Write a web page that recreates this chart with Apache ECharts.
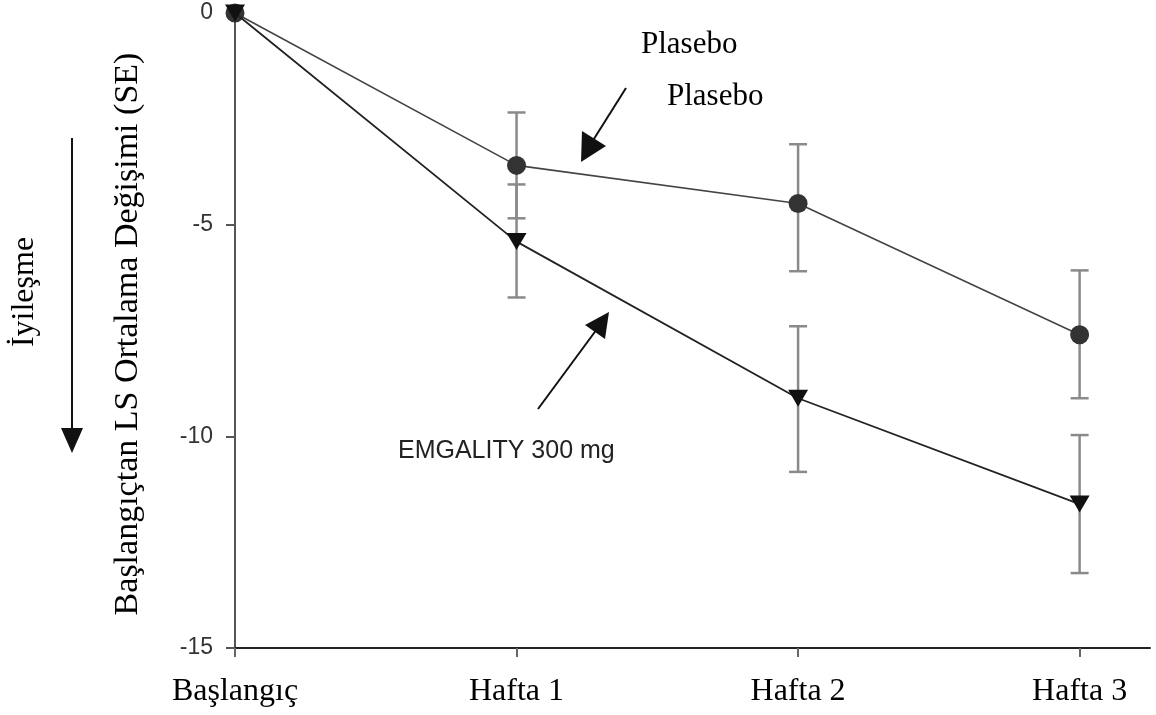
<!DOCTYPE html>
<html>
<head>
<meta charset="utf-8">
<script src="https://cdn.jsdelivr.net/npm/echarts@6/dist/echarts.min.js"></script>
<style>html,body{margin:0;padding:0;background:#fff}#c{width:1156px;height:715px}</style>
</head>
<body>
<div id="c"></div>
<script>
const categories = ['Başlangıç', 'Hafta 1', 'Hafta 2', 'Hafta 3'];
const placeboMean = [0, -3.6, -4.5, -7.6];
const placeboLow = [null, -4.85, -6.1, -9.1];
const placeboHigh = [null, -2.35, -3.1, -6.08];
const emgMean = [0, -5.4, -9.1, -11.6];
const emgLow = [null, -6.72, -10.84, -13.23];
const emgHigh = [null, -4.05, -7.4, -9.97];
const yTicks = [0, -5, -10, -15];

const chart = echarts.init(document.getElementById('c'), null, {renderer: 'canvas'});

function errData(low, high) {
  const out = [];
  low.forEach((l, i) => { if (l !== null) out.push([i, l, high[i]]); });
  return out;
}
function errRender(params, api) {
  const x = api.value(0);
  const p1 = api.coord([x, api.value(1)]);
  const p2 = api.coord([x, api.value(2)]);
  const hw = 9;
  const st = {stroke: '#8a8a8a', lineWidth: 2.5};
  return {type: 'group', children: [
    {type: 'line', shape: {x1: p1[0], y1: p1[1], x2: p2[0], y2: p2[1]}, style: st},
    {type: 'line', shape: {x1: p1[0]-hw, y1: p1[1], x2: p1[0]+hw, y2: p1[1]}, style: st},
    {type: 'line', shape: {x1: p2[0]-hw, y1: p2[1], x2: p2[0]+hw, y2: p2[1]}, style: st}
  ]};
}

const serif = 'Liberation Serif';
const sans = 'Liberation Sans';

chart.setOption({
  animation: false,
  backgroundColor: '#fff',
  grid: {left: 235, right: 6, top: 13, bottom: 67, containLabel: false},
  xAxis: {
    type: 'value', min: 0, max: 3.25,
    axisLine: {show: true, onZero: false, lineStyle: {color: '#222', width: 2}},
    axisTick: {show: true, inside: false, length: 9, customValues: [0, 1, 2, 3], lineStyle: {color: '#666', width: 2}},
    axisLabel: {show: true, customValues: [0, 1, 2, 3], margin: 28, fontFamily: serif, fontSize: 32, color: '#000',
      formatter: v => categories[Math.round(v)] || ''},
    splitLine: {show: false}
  },
  yAxis: {
    type: 'value', min: -15, max: 0, interval: 5,
    axisLine: {show: true, onZero: false, lineStyle: {color: '#555', width: 2}},
    axisTick: {show: true, inside: false, length: 9, lineStyle: {color: '#555', width: 2}},
    axisLabel: {show: true, margin: 22, fontFamily: sans, fontSize: 23, color: '#333',
      formatter: v => yTicks.includes(v) ? String(v) : ''},
    splitLine: {show: false}
  },
  series: [
    {type: 'custom', name: 'errP', renderItem: errRender, data: errData(placeboLow, placeboHigh), z: 1, silent: true},
    {type: 'custom', name: 'errE', renderItem: errRender, data: errData(emgLow, emgHigh), z: 1, silent: true},
    {type: 'line', name: 'Plasebo', data: placeboMean.map((v, i) => [i, v]), z: 3,
      symbol: 'circle', symbolSize: 19, itemStyle: {color: '#333'},
      lineStyle: {color: '#444', width: 1.6}},
    {type: 'line', name: 'EMGALITY 300 mg', data: emgMean.map((v, i) => [i, v]), z: 4,
      symbol: 'triangle', symbolRotate: 180, symbolSize: [20, 17], itemStyle: {color: '#111'},
      lineStyle: {color: '#222', width: 1.8}}
  ],
  graphic: [
    {type: 'text', x: 128, y: 334, rotation: Math.PI / 2,
      style: {text: 'Başlangıçtan LS Ortalama Değişimi (SE)', font: '34px "Liberation Serif"', fill: '#000', align: 'center', verticalAlign: 'middle'}},
    {type: 'text', x: 25, y: 292, rotation: Math.PI / 2,
      style: {text: 'İyileşme', font: '32px "Liberation Serif"', fill: '#000', align: 'center', verticalAlign: 'middle'}},
    {type: 'line', shape: {x1: 72, y1: 138, x2: 72, y2: 432}, style: {stroke: '#111', lineWidth: 2}},
    {type: 'polygon', shape: {points: [[61, 428], [83, 428], [72, 453]]}, style: {fill: '#111'}},
    {type: 'text', x: 641, y: 45, style: {text: 'Plasebo', font: '31px "Liberation Serif"', fill: '#000', align: 'left', verticalAlign: 'middle'}},
    {type: 'text', x: 667, y: 97, style: {text: 'Plasebo', font: '31px "Liberation Serif"', fill: '#000', align: 'left', verticalAlign: 'middle'}},
    {type: 'line', shape: {x1: 626, y1: 88, x2: 592, y2: 142}, style: {stroke: '#111', lineWidth: 2}},
    {type: 'polygon', shape: {points: [[581, 162], [582, 131], [606, 146]]}, style: {fill: '#111'}},
    {type: 'line', shape: {x1: 538, y1: 409, x2: 597, y2: 329}, style: {stroke: '#111', lineWidth: 2}},
    {type: 'polygon', shape: {points: [[609, 312], [585, 325], [605, 339]]}, style: {fill: '#111'}},
    {type: 'text', x: 398, y: 451, style: {text: 'EMGALITY 300 mg', font: '25px "Liberation Sans"', fill: '#222', align: 'left', verticalAlign: 'middle'}}
  ]
});
</script>
</body>
</html>
